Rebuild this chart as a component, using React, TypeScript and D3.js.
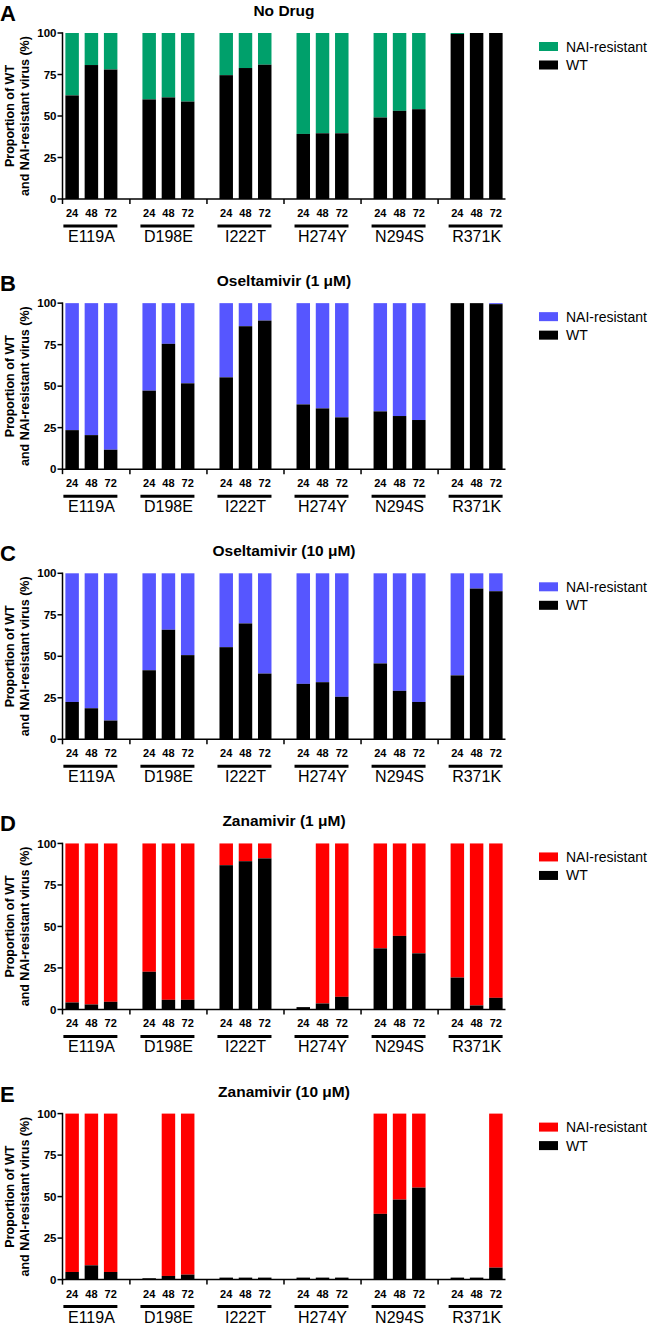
import * as d3 from 'd3';

// groups / time points shared by every panel
const mutants = ['E119A', 'D198E', 'I222T', 'H274Y', 'N294S', 'R371K'];
const hours = ['24', '48', '72'];
const yTicks = [0, 25, 50, 75, 100];

const panelLetters = ['A', 'B', 'C', 'D', 'E'];
const panelTitles = ['No Drug', 'Oseltamivir (1 \u03bcM)', 'Oseltamivir (10 \u03bcM)', 'Zanamivir (1 \u03bcM)', 'Zanamivir (10 \u03bcM)'];
const resistantColors = ['#00a06b', '#5656ff', '#5656ff', '#ff0000', '#ff0000'];

// WT % per bar (mutant x hour), one array per panel
const wtNoDrug = [62.4, 80.7, 78.0, 60.0, 61.2, 58.7, 74.6, 78.9, 80.9, 39.2, 39.6, 39.6, 49.1, 53.1, 54.1, 99.4, 100, 100];
const wtOsel1 = [23.5, 20.5, 11.7, 47.3, 75.5, 51.7, 55.3, 86.1, 89.5, 39.0, 36.6, 31.2, 34.8, 32.0, 29.6, 100, 100, 99.4];
const wtOsel10 = [22.5, 18.7, 11.3, 41.6, 66.0, 50.7, 55.5, 69.8, 39.6, 33.4, 34.4, 25.6, 45.7, 29.2, 22.5, 38.5, 90.8, 89.2];
const wtZan1 = [4.2, 3.0, 4.6, 22.7, 5.8, 5.8, 86.9, 89.3, 91.0, 1.4, 3.6, 7.6, 36.8, 44.3, 33.8, 19.2, 2.4, 7.0];
const wtZan10 = [4.6, 8.6, 4.6, 0.8, 2.2, 3.0, 1.2, 1.2, 1.2, 1.2, 1.2, 1.2, 39.6, 48.2, 55.4, 1.2, 1.2, 7.2];

// NAI-resistant % per bar
const resNoDrug = [37.6, 19.3, 22.0, 40.0, 38.8, 41.3, 25.4, 21.1, 19.1, 60.8, 60.4, 60.4, 50.9, 46.9, 45.9, 0.6, 0, 0];
const resOsel1 = [76.5, 79.5, 88.3, 52.7, 24.5, 48.3, 44.7, 13.9, 10.5, 61.0, 63.4, 68.8, 65.2, 68.0, 70.4, 0, 0, 0.6];
const resOsel10 = [77.5, 81.3, 88.7, 58.4, 34.0, 49.3, 44.5, 30.2, 60.4, 66.6, 65.6, 74.4, 54.3, 70.8, 77.5, 61.5, 9.2, 10.8];
const resZan1 = [95.8, 97.0, 95.4, 77.3, 94.2, 94.2, 13.1, 10.7, 9.0, 0, 96.4, 92.4, 63.2, 55.7, 66.2, 80.8, 97.6, 93.0];
const resZan10 = [95.4, 91.4, 95.4, 0, 97.8, 97.0, 0, 0, 0, 0, 0, 0, 60.4, 51.8, 44.6, 0, 0, 92.8];

const wtSeries = [wtNoDrug, wtOsel1, wtOsel10, wtZan1, wtZan10];
const resSeries = [resNoDrug, resOsel1, resOsel10, resZan1, resZan10];

const W = 650;
const H = 1330;
const plotLeft = 62.5;
const plotRight = 505.5;
const plotH = 166;
const firstTop = 33;
const panelStep = 270.15;
const font = "'Liberation Sans', Arial, Helvetica, sans-serif";

// one slot per bar, plus an empty slot between groups
const slots: string[] = [];
mutants.forEach((m, i) => {
  hours.forEach((h) => slots.push(`${m}|${h}`));
  if (i < mutants.length - 1) slots.push(`gap${i}`);
});

const x = d3.scaleBand<string>().domain(slots).range([plotLeft, plotRight]).paddingInner(0.3).paddingOuter(0.15);
const bw = x.bandwidth();

function Panel({ idx }: { idx: number }) {
  const top = firstTop + idx * panelStep;
  const bottom = top + plotH;
  const y = d3.scaleLinear().domain([0, 100]).range([bottom, top]);
  const wt = wtSeries[idx];
  const res = resSeries[idx];
  const resColor = resistantColors[idx];
  const tickXs = [plotLeft, ...slots.filter((s) => s.startsWith('gap')).map((s) => (x(s) || 0) + bw / 2)];
  const legX = 539;

  return (
    <g>
      <text x={0} y={top - 12} fontSize={22} fontWeight="bold" fontFamily={font}>{panelLetters[idx]}</text>
      <text x={(plotLeft + plotRight) / 2} y={top - 17} fontSize={15.5} fontWeight="bold" fontFamily={font} textAnchor="middle">{panelTitles[idx]}</text>

      {/* bars */}
      {mutants.map((m, gi) =>
        hours.map((h, hi) => {
          const k = gi * 3 + hi;
          const bx = x(`${m}|${h}`) || 0;
          const w = wt[k];
          const r = res[k];
          return (
            <g key={`${m}${h}`}>
              {r > 0 && <rect x={bx} y={y(w + r)} width={bw} height={y(w) - y(w + r)} fill={resColor} />}
              <rect x={bx} y={y(w)} width={bw} height={y(0) - y(w)} fill="#000" />
            </g>
          );
        })
      )}

      {/* y axis */}
      <line x1={plotLeft} x2={plotLeft} y1={top - 0.75} y2={bottom + 0.75} stroke="#000" strokeWidth={1.5} />
      {yTicks.map((t) => (
        <g key={t}>
          <line x1={plotLeft - 5} x2={plotLeft} y1={y(t)} y2={y(t)} stroke="#000" strokeWidth={1.5} />
          <text x={plotLeft - 6} y={y(t)} dy="0.36em" fontSize={11.5} fontWeight="bold" fontFamily={font} textAnchor="end">{t}</text>
        </g>
      ))}
      <text transform={`translate(0,${(top + bottom) / 2}) rotate(-90)`} fontSize={12.5} fontWeight="bold" fontFamily={font} textAnchor="middle">
        <tspan x={0} y={14}>Proportion of WT</tspan>
        <tspan x={0} y={28.5}>and NAI-resistant virus (%)</tspan>
      </text>

      {/* x axis */}
      <line x1={plotLeft} x2={plotRight} y1={bottom} y2={bottom} stroke="#000" strokeWidth={1.5} />
      {tickXs.map((tx, i) => (
        <line key={i} x1={tx} x2={tx} y1={bottom} y2={bottom + 5} stroke="#000" strokeWidth={1.5} />
      ))}
      {mutants.map((m) => {
        const first = x(`${m}|24`) || 0;
        const last = (x(`${m}|72`) || 0) + bw;
        const mid = (x(`${m}|48`) || 0) + bw / 2;
        return (
          <g key={m}>
            {hours.map((h) => (
              <text key={h} x={(x(`${m}|${h}`) || 0) + bw / 2} y={bottom + 18} fontSize={11} fontWeight="bold" fontFamily={font} textAnchor="middle">{h}</text>
            ))}
            <line x1={first - 2} x2={last} y1={bottom + 27} y2={bottom + 27} stroke="#000" strokeWidth={3} />
            <text x={mid} y={bottom + 43} fontSize={16} fontFamily={font} textAnchor="middle">{m}</text>
          </g>
        );
      })}

      {/* legend */}
      <rect x={legX} y={top + 9} width={19} height={9} fill={resColor} />
      <text x={legX + 27} y={top + 13.5} dy="0.36em" fontSize={14} fontFamily={font}>NAI-resistant</text>
      <rect x={legX} y={top + 27.5} width={19} height={9} fill="#000" />
      <text x={legX + 27} y={top + 32} dy="0.36em" fontSize={14} fontFamily={font}>WT</text>
    </g>
  );
}

export default function App() {
  return (
    <svg width={W} height={H} viewBox={`0 0 ${W} ${H}`} style={{ position: 'absolute', left: 0, top: 0, background: '#fff' }}>
      {panelLetters.map((_, i) => (
        <Panel key={i} idx={i} />
      ))}
    </svg>
  );
}
